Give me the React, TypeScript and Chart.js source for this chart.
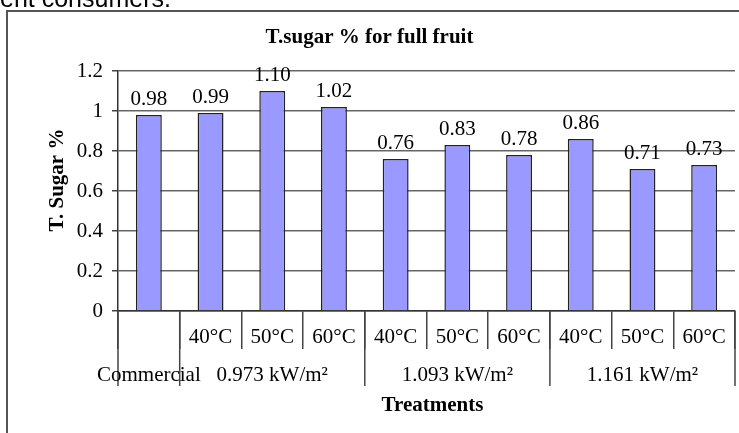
import React, { useEffect, useRef } from "react";
import { Chart, registerables } from "chart.js";

Chart.register(...registerables);

const categories = ["", "40°C", "50°C", "60°C", "40°C", "50°C", "60°C", "40°C", "50°C", "60°C"];
const sugarValues = [0.98, 0.99, 1.1, 1.02, 0.76, 0.83, 0.78, 0.86, 0.71, 0.73];
const groupNames = ["Commercial", "0.973 kW/m²", "1.093 kW/m²", "1.161 kW/m²"];
const groupSizes = [1, 3, 3, 3];
const yTicks = [0, 0.2, 0.4, 0.6, 0.8, 1, 1.2];
const chartTitle = "T.sugar % for full fruit";
const yTitle = "T. Sugar %";
const xTitle = "Treatments";
const pageText = "ent consumers.";

const SERIF = "'Liberation Serif', 'Times New Roman', serif";
const FS = 21;

const decorPlugin = {
  id: "decor",
  afterDatasetsDraw(chart: any) {
    const ctx = chart.ctx;
    const meta = chart.getDatasetMeta(0);
    ctx.save();
    ctx.fillStyle = "#000";
    ctx.font = `${FS}px ${SERIF}`;
    ctx.textAlign = "center";
    ctx.textBaseline = "alphabetic";
    meta.data.forEach((bar: any, i: number) => {
      ctx.fillText(sugarValues[i].toFixed(2), bar.x, bar.y - 10);
    });
    ctx.restore();
  },
  afterDraw(chart: any) {
    const ctx = chart.ctx;
    const xs = chart.scales.x;
    const area = chart.chartArea;
    ctx.save();
    // outer frame
    ctx.strokeStyle = "#555";
    ctx.lineWidth = 2;
    ctx.beginPath();
    ctx.moveTo(7, chart.height + 5);
    ctx.lineTo(7, 11);
    ctx.lineTo(chart.width + 5, 11);
    ctx.stroke();

    // group separators
    const half = (xs.getPixelForValue(1) - xs.getPixelForValue(0)) / 2;
    const bounds: number[] = [xs.getPixelForValue(0) - half];
    let idx = 0;
    groupSizes.forEach((s) => {
      idx += s;
      bounds.push(xs.getPixelForValue(idx - 1) + half);
    });
    ctx.strokeStyle = "#444";
    ctx.lineWidth = 1.5;
    bounds.forEach((b) => {
      ctx.beginPath();
      ctx.moveTo(b, area.bottom);
      ctx.lineTo(b, 386);
      ctx.stroke();
    });

    // group labels
    ctx.fillStyle = "#000";
    ctx.font = `${FS}px ${SERIF}`;
    ctx.textAlign = "center";
    ctx.textBaseline = "middle";
    let start = 0;
    groupNames.forEach((name, g) => {
      const end = start + groupSizes[g] - 1;
      const cx = (xs.getPixelForValue(start) + xs.getPixelForValue(end)) / 2;
      ctx.fillText(name, cx, 375);
      start += groupSizes[g];
    });

    // titles
    ctx.font = `bold ${FS}px ${SERIF}`;
    ctx.fillText(chartTitle, chart.width / 2, 38);
    ctx.fillText(xTitle, (area.left + area.right) / 2 + 6, 406);
    ctx.translate(58, 180);
    ctx.rotate(-Math.PI / 2);
    ctx.fillText(yTitle, 0, 0);
    ctx.restore();
  },
};

export default function App() {
  const ref = useRef<HTMLCanvasElement | null>(null);
  useEffect(() => {
    if (!ref.current) return;
    const chart = new Chart(ref.current, {
      type: "bar",
      data: {
        labels: categories,
        datasets: [
          {
            data: sugarValues,
            backgroundColor: "#9999FF",
            borderColor: "#222",
            borderWidth: 1.5,
            barPercentage: 0.42,
            categoryPercentage: 1,
          },
        ],
      },
      options: {
        animation: false,
        responsive: false,
        maintainAspectRatio: false,
        layout: { padding: { top: 71, right: 4, left: 0, bottom: 0 } },
        plugins: {
          legend: { display: false },
          title: { display: false },
          tooltip: { enabled: false },
        },
        scales: {
          x: {
            ticks: {
              font: { family: SERIF, size: FS },
              color: "#000",
              padding: -24,
              autoSkip: false,
              maxRotation: 0,
            },
            grid: {
              display: true,
              drawOnChartArea: false,
              tickLength: 38,
              color: "#444",
              lineWidth: 1.5,
            },
            border: { color: "#333", width: 1.5 },
            afterFit: (s: any) => {
              s.height = 122;
            },
          },
          y: {
            min: 0,
            max: 1.2,
            afterBuildTicks: (s: any) => {
              s.ticks = yTicks.map((v) => ({ value: v }));
            },
            ticks: {
              font: { family: SERIF, size: FS },
              color: "#000",
              padding: 9,
              callback: (v: any) => String(v),
            },
            grid: { color: "#666", lineWidth: 1.5, tickLength: 6, tickColor: "#444" },
            border: { color: "#333", width: 1.5 },
            afterFit: (s: any) => {
              s.width = 118;
            },
          },
        },
      },
      plugins: [decorPlugin],
    } as any);
    return () => chart.destroy();
  }, []);

  return (
    <div style={{ position: "absolute", left: 0, top: 0, width: 739, height: 433, overflow: "hidden", background: "#fff" }}>
      <div
        style={{
          position: "absolute",
          left: 0,
          top: -14,
          fontFamily: "'Liberation Sans', Arial, sans-serif",
          fontSize: 25,
          lineHeight: "25px",
          whiteSpace: "nowrap",
          color: "#000",
        }}
      >
        {pageText}
      </div>
      <canvas ref={ref} width={739} height={433} style={{ display: "block", width: 739, height: 433 }} />
    </div>
  );
}
